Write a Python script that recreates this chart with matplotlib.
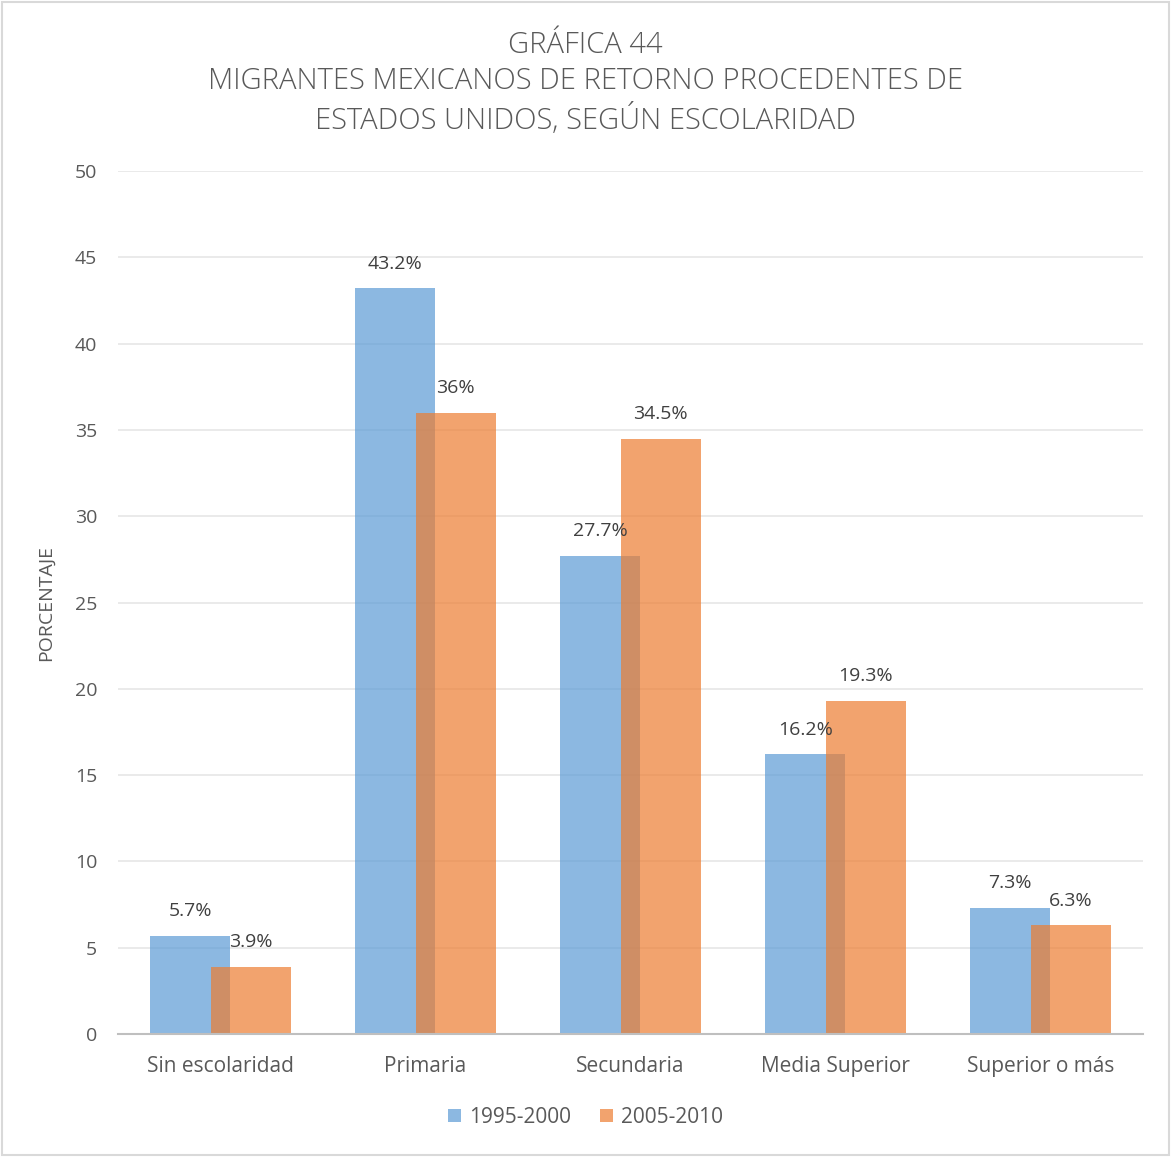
import matplotlib
matplotlib.use('Agg')
import matplotlib.pyplot as plt
import numpy as np
from matplotlib.patches import Rectangle

# === datos ===
categories = ["Sin escolaridad", "Primaria", "Secundaria", "Media Superior", "Superior o más"]
series_names = ["1995-2000", "2005-2010"]
vals_1995 = [5.7, 43.2, 27.7, 16.2, 7.3]
vals_2005 = [3.9, 36.0, 34.5, 19.3, 6.3]
labels_1995 = ["5.7%", "43.2%", "27.7%", "16.2%", "7.3%"]
labels_2005 = ["3.9%", "36%", "34.5%", "19.3%", "6.3%"]
yticks = [0, 5, 10, 15, 20, 25, 30, 35, 40, 45, 50]

plt.rcParams['font.family'] = ['Open Sans', 'DejaVu Sans']

BLUE = "#5B9BD5"
ORANGE = "#ED7D31"
TXT = "#595959"

fig = plt.figure(figsize=(11.71, 11.57), dpi=100)
ax = fig.add_axes([0.1008, 0.1063, 0.8752, 0.7459])

x = np.arange(len(categories))
w = 0.39
off = 0.147
b1 = ax.bar(x - off, vals_1995, width=w, color=BLUE, alpha=0.7, zorder=2, label=series_names[0])
b2 = ax.bar(x + off, vals_2005, width=w, color=ORANGE, alpha=0.7, zorder=3, label=series_names[1])

# etiquetas de datos
for rect, lab in zip(b1, labels_1995):
    ax.text(rect.get_x() + rect.get_width() / 2, rect.get_height() + 0.9, lab,
            ha="center", va="bottom", fontsize=14, color="#404040", zorder=5)
for rect, lab in zip(b2, labels_2005):
    ax.text(rect.get_x() + rect.get_width() / 2, rect.get_height() + 0.9, lab,
            ha="center", va="bottom", fontsize=14, color="#404040", zorder=5)

ax.set_xlim(-0.5, len(categories) - 0.5)
ax.set_ylim(0, 50)
ax.set_yticks(yticks)
ax.set_xticks(x)
ax.set_xticklabels(categories)
ax.tick_params(axis="both", length=0, colors=TXT)
ax.tick_params(axis="x", pad=16, labelsize=15)
ax.tick_params(axis="y", pad=15, labelsize=14)
ax.yaxis.grid(True, color="#E6E6E6", linewidth=1.2, zorder=0)
ax.set_axisbelow(True)
for s in ["top", "right", "left"]:
    ax.spines[s].set_visible(False)
ax.spines["bottom"].set_color("#BFBFBF")
ax.spines["bottom"].set_linewidth(1.5)
ax.spines["bottom"].set_zorder(4)

ax.set_ylabel("PORCENTAJE", fontsize=14, color=TXT, labelpad=14)

fig.text(0.5, 0.974, "GRÁFICA 44\nMIGRANTES MEXICANOS DE RETORNO PROCEDENTES DE\nESTADOS UNIDOS, SEGÚN ESCOLARIDAD",
         ha="center", va="top", fontsize=21, fontweight="light", color=TXT, linespacing=1.32)

leg = fig.legend(handles=[b1, b2], labels=series_names, loc="center",
                 bbox_to_anchor=(0.5, 0.034), ncol=2, frameon=False, fontsize=15,
                 handlelength=0.6, handleheight=0.6, columnspacing=1.4, handletextpad=0.4)
for t in leg.get_texts():
    t.set_color(TXT)

fig.patches.append(Rectangle((0.002, 0.002), 0.996, 0.996, transform=fig.transFigure,
                             fill=False, edgecolor="#D9D9D9", linewidth=1.5))

fig.savefig("out.png", dpi=100)
